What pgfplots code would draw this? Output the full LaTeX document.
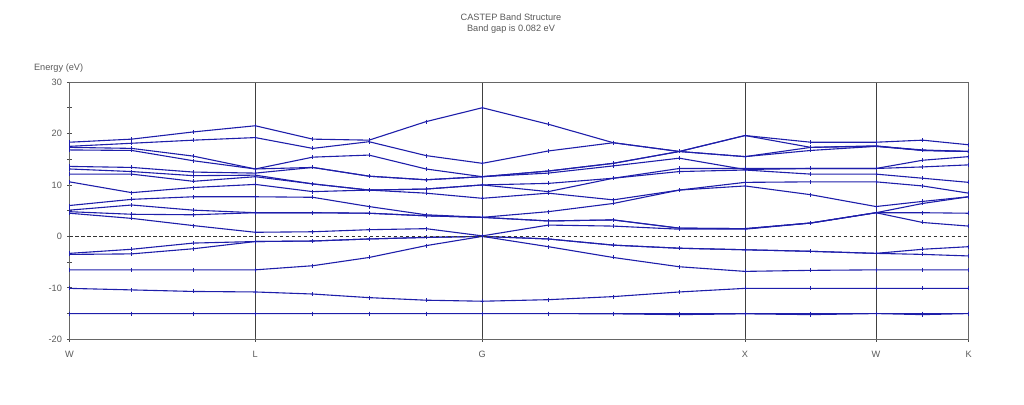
\documentclass[border=0pt]{standalone}
\usepackage{fontspec}
\setmainfont{Liberation Sans}
\usepackage{pgfplots}
\pgfplotsset{compat=1.18}
\usepackage{pgfplotstable}
\definecolor{bandblue}{RGB}{30,30,170}
\definecolor{txtgray}{RGB}{90,90,90}

% k-path W-L-G-X-W-K, energies in eV
\pgfplotstableread{
k     s1    s2     v1    v2   v3   v4   c1  c2  c3   c4  c5   c6   c7   c8   c9   c10  c11  c12
0.000 -15.0 -15.0  -10.1 -6.5 -3.3 -3.5 4.5 4.8 5.1  6.0 10.6 12.1 13.1 13.6 16.8 17.3 17.5 18.3
0.622 -15.0 -15.0  -10.4 -6.5 -2.5 -3.4 3.5 4.3 6.1  7.2 8.5  12.1 12.6 13.4 16.7 17.1 18.1 18.9
1.238 -15.0 -15.0  -10.7 -6.5 -1.3 -2.4 2.1 4.2 5.1  7.7 9.5  10.7 11.8 12.5 14.7 15.6 18.7 20.3
1.858 -15.0 -15.0  -10.8 -6.5 -1.0 -1.0 0.8 4.6 4.6  7.7 10.1 11.6 11.9 12.3 13.1 13.1 19.2 21.5
2.432 -15.0 -15.0  -11.2 -5.7 -0.9 -0.9 0.9 4.6 4.6  7.6 8.7  10.2 10.2 13.4 15.4 13.4 17.1 18.9
2.995 -15.0 -15.0  -11.9 -4.1 -0.5 -0.5 1.3 4.5 4.5  5.8 9.0  9.0  9.0  11.7 15.8 11.7 18.4 18.7
3.565 -15.0 -15.0  -12.4 -1.8 -0.2 -0.2 1.5 4.0 4.0  4.2 8.4  9.2  9.2  11.0 13.1 11.0 15.7 22.3
4.128 -15.0 -15.0  -12.6 0.0  0.0  0.0  0.1 3.7 3.7  3.7 7.4  10.0 10.0 11.6 11.6 11.6 14.2 25.0
4.788 -15.0 -15.0  -12.3 -2.0 -0.5 -0.5 2.2 3.0 4.8  3.0 8.4  8.7  10.3 12.3 12.7 12.7 16.6 21.8
5.438 -15.0 -15.05 -11.7 -4.1 -1.7 -1.7 2.0 3.2 6.4  3.2 7.1  11.3 11.3 13.7 14.2 14.2 18.2 18.2
6.098 -15.0 -15.2  -10.8 -5.9 -2.3 -2.3 1.4 1.6 9.0  1.6 9.0  13.2 12.6 15.2 16.5 16.5 16.5 16.5
6.755 -15.0 -15.05 -10.1 -6.8 -2.6 -2.6 1.4 1.5 10.5 1.5 9.8  13.2 12.9 13.0 15.5 15.5 19.6 19.6
7.412 -15.0 -15.2  -10.1 -6.6 -2.9 -2.9 2.6 2.6 10.6 2.6 8.1  13.2 12.1 13.2 16.7 17.3 17.3 18.3
8.065 -15.0 -15.0  -10.1 -6.5 -3.3 -3.3 4.6 4.6 10.6 4.6 5.8  13.2 12.1 13.2 17.5 17.5 17.6 18.3
8.532 -15.0 -15.2  -10.1 -6.5 -2.5 -3.5 6.4 4.6 9.8  2.7 6.8  14.8 11.3 13.5 16.7 16.8 16.7 18.7
8.992 -15.0 -15.0  -10.1 -6.5 -2.0 -3.8 7.7 4.5 8.4  2.0 7.7  15.5 10.5 13.9 16.5 16.5 16.5 17.8
}\bands

\begin{document}
\begin{tikzpicture}
\useasboundingbox (-34.75pt,-32.35pt) rectangle (477.25pt,169.65pt);
\begin{axis}[
  scale only axis,
  width=449.6pt, height=128.65pt,
  clip mode=individual,
  xmin=0, xmax=8.992, ymin=-20, ymax=30,
  xtick={0,1.858,4.128,6.755,8.065,8.992},
  xticklabels={W,L,G,X,W,K},
  ytick={-20,-10,0,10,20,30},
  yticklabels={-20,-10,0,10,20,30},
  minor ytick={-15,-5,5,15,25},
  xtick pos=left, ytick pos=left,
  tick align=center,
  major tick length=2.2pt, minor tick length=2.2pt,
  tick style={black!70, line width=0.4pt},
  xmajorgrids=true,
  grid style={black!75, line width=0.45pt},
  axis line style={black!60, line width=0.5pt},
  ticklabel style={font=\fontsize{4.6}{5}\selectfont, text=txtgray},
  yticklabel style={anchor=east, inner sep=0pt, xshift=-2.5pt},
  xticklabel style={anchor=base, inner sep=0pt, yshift=-7.8pt},
  band/.style={bandblue, line width=0.55pt, mark=|, mark size=1pt,
    mark options={bandblue, line width=0.4pt}},
]
\pgfplotsinvokeforeach{s1,s2,v1,v2,v3,v4,c1,c2,c3,c4,c5,c6,c7,c8,c9,c10,c11,c12}{
  \addplot[band] table[x=k, y=#1] {\bands};
}
\addplot[black!80, dashed, dash pattern=on 1.6pt off 1.4pt, line width=0.45pt]
  coordinates {(0,0) (8.992,0)};
\node[anchor=base, font=\fontsize{4.6}{5}\selectfont, text=txtgray, yshift=31pt]
  at (rel axis cs:0.491,1) {CASTEP Band Structure};
\node[anchor=base, font=\fontsize{4.6}{5}\selectfont, text=txtgray, yshift=25.5pt]
  at (rel axis cs:0.491,1) {Band gap is 0.082 eV};
\node[anchor=base west, font=\fontsize{4.6}{5}\selectfont, text=txtgray, xshift=-21.25pt, yshift=6pt]
  at (rel axis cs:0,1) {Energy (eV)};
\end{axis}
\end{tikzpicture}
\end{document}
